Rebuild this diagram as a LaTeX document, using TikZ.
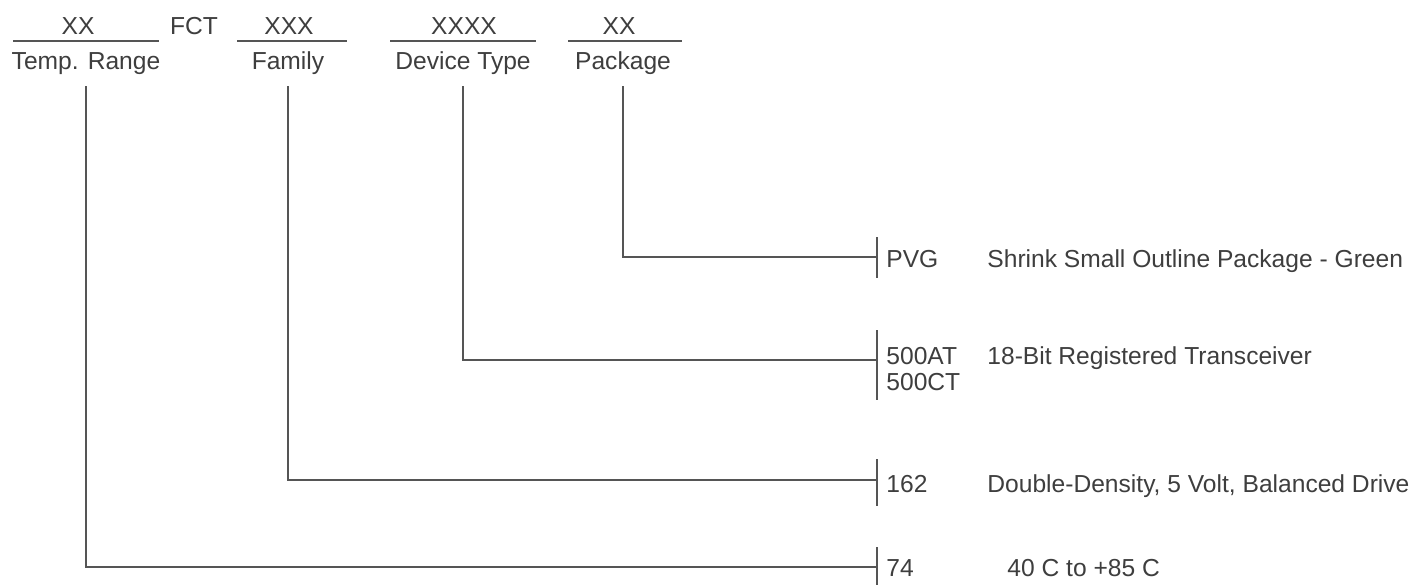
\documentclass[tikz,border=0pt]{standalone}
\usepackage{fontspec}
\setmainfont{Liberation Sans}
\usetikzlibrary{calc}

\definecolor{ink}{HTML}{3E3E3E}
\definecolor{rulegray}{HTML}{555555}

\begin{document}
\begin{tikzpicture} [x=0.5pt,y=-0.5pt,
  txt/.style={text=ink, inner sep=0, anchor=base, font=\fontsize{12.3}{14}\selectfont},
  field/.style={txt, inner ysep=5.9pt},
  code/.style={txt, anchor=base west},
  rule/.style={rulegray, line width=0.8pt}]
\useasboundingbox (0,0) rectangle (1418,584);
% part number fields
\node[txt] (xxrange) at (78,34)  {XX};
\node[txt] (fct)     at (194,34) {FCT};
\node[txt] (xxfam)   at (289,34) {XXX};
\node[txt] (xxdev)   at (464,34) {XXXX};
\node[txt] (xxpkg)   at (619,34) {XX};
\foreach \a/\b in {13/159, 237/347, 390/536, 568/682}
  \draw[rule] (\a,41) -- (\b,41);
\node[field] (range)   at (86,69)  {Temp. Range};
\node[field] (family)  at (288,69) {Family};
\node[field] (device)  at (463,69) {Device Type};
\node[field] (package) at (623,69) {Package};
% bars on the right
\foreach \n/\y/\a/\b in {pvg/257/237/278, dev/360/330/400, fam/480/459/506, tmp/567/547/592} {
  \coordinate (b\n) at (877,\y);
  \draw[rule] (877,\a) -- (877,\b);
}
\draw[rule] (package.south) |- (bpvg);
\draw[rule] (device.south)  |- (bdev);
\draw[rule] (family.south)  |- (bfam);
\draw[rule] (range.south)   |- (btmp);
% codes and what they stand for
\node[code] (pvg)   at (886,267) {PVG};
\node[code] (dpvg)  at (987,267) {Shrink Small Outline Package - Green};
\node[code] (at500) at (886,364) {500AT};
\node[code] (ct500) at (886,390) {500CT};
\node[code] (d500)  at (987,364) {18-Bit Registered Transceiver};
\node[code] (c162)  at (886,492) {162};
\node[code] (d162)  at (987,492) {Double-Density, 5 Volt, Balanced Drive};
\node[code] (c74)   at (886,576) {74};
\node[code] (d74)   at (1007,576) {40 C to +85 C};
\end{tikzpicture}
\end{document}
